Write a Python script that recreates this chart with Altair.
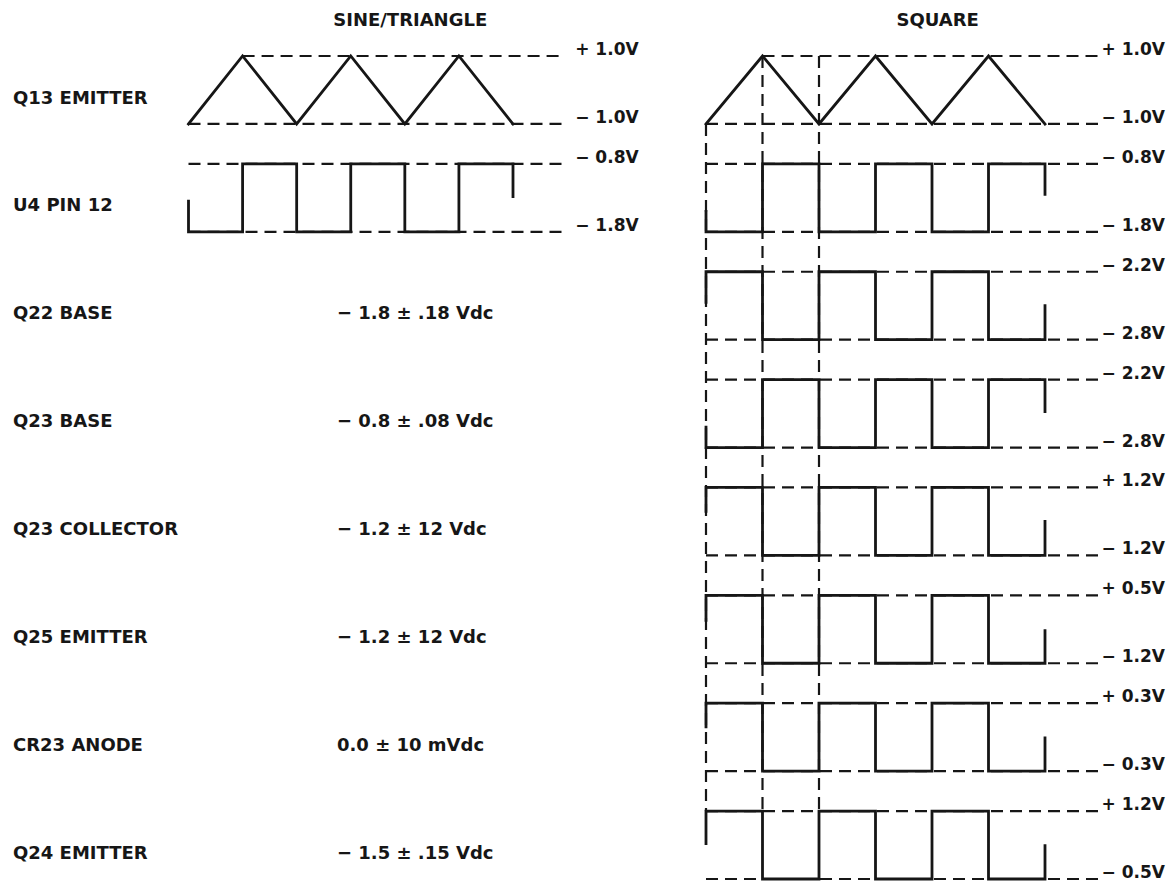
import altair as alt
import pandas as pd

# ---------------- data ----------------
HALF_PERIODS = [0, 1, 2, 3, 4, 5, 6]        # triangle vertices / switching instants
TRI_LEVELS = [0, 1, 0, 1, 0, 1, 0]          # 1 = upper level, 0 = lower level

ROW_NAMES = ["Q13 EMITTER", "U4 PIN 12", "Q22 BASE", "Q23 BASE",
             "Q23 COLLECTOR", "Q25 EMITTER", "CR23 ANODE", "Q24 EMITTER"]
DC_READINGS = ["", "", "− 1.8 ±  .18 Vdc", "− 0.8 ±  .08 Vdc", "− 1.2 ±  12 Vdc",
               "− 1.2 ±  12 Vdc", "0.0 ±  10 mVdc", "− 1.5 ±  .15 Vdc"]

TRI_TOP_LABEL = "+ 1.0V"
TRI_BOT_LABEL = "− 1.0V"

# SINE/TRIANGLE column square trace (U4 PIN 12)
SINE_SQ_ROWS = [1]
SINE_SQ_START = [0]
SINE_SQ_STUB_IN = [0.45]
SINE_SQ_STUB_OUT = [0.48]
SINE_SQ_TOP = ["− 0.8V"]
SINE_SQ_BOT = ["− 1.8V"]

# SQUARE column square traces
SQ_ROWS = [1, 2, 3, 4, 5, 6, 7]
SQ_START = [0, 1, 0, 1, 1, 1, 1]
SQ_STUB_IN = [0.30, 0.45, 0.30, 0.35, 0.37, 0.35, 0.48]
SQ_STUB_OUT = [0.45, 0.50, 0.47, 0.50, 0.48, 0.49, 0.49]
SQ_TOP = ["− 0.8V", "− 2.2V", "− 2.2V", "+ 1.2V", "+ 0.5V", "+ 0.3V", "+ 1.2V"]
SQ_BOT = ["− 1.8V", "− 2.8V", "− 2.8V", "− 1.2V", "− 1.2V", "− 0.3V", "− 0.5V"]

TITLES = ["SINE/TRIANGLE", "SQUARE"]

# ---------------- layout constants (not data) ----------------
SWING = 0.63          # height of a trace, in row units
REF_END = 6.95        # dashed reference lines end (half-period units)
TITLE_T = 4.1
LABEL_T = {"L": 7.15, "R": 7.0}
INK = "#161616"
FONT = "DejaVu Sans"

XL = alt.Scale(domain=[0, 6], range=[180.5, 505])
XR = alt.Scale(domain=[0, 6], range=[698, 1037])
YS = alt.Scale(domain=[0, 7.63], range=[48, 871])


def yy(row, level):
    return row + (1 - level) * SWING


def build(panel, sq_rows, sq_start, stub_in, stub_out, sq_top, sq_bot):
    pts, refs, labels = [], [], []
    # triangle (row 0)
    for i, (t, lv) in enumerate(zip(HALF_PERIODS, TRI_LEVELS)):
        pts.append(dict(series="tri", order=i, t=t, yy=yy(0, lv)))
    refs.append(dict(t0=HALF_PERIODS[1], t1=REF_END, yy=yy(0, 1)))
    refs.append(dict(t0=HALF_PERIODS[0], t1=REF_END, yy=yy(0, 0)))
    labels.append(dict(t=LABEL_T[panel], yy=yy(0, 1), text=TRI_TOP_LABEL))
    labels.append(dict(t=LABEL_T[panel], yy=yy(0, 0), text=TRI_BOT_LABEL))
    # square traces
    for row, st, si, so, tl, bl in zip(sq_rows, sq_start, stub_in, stub_out, sq_top, sq_bot):
        seq = []
        lv = st
        seq.append((HALF_PERIODS[0], lv + si if lv == 0 else lv - si))
        seq.append((HALF_PERIODS[0], lv))
        for t in HALF_PERIODS[1:-1]:
            seq.append((t, lv))
            lv = 1 - lv
            seq.append((t, lv))
        seq.append((HALF_PERIODS[-1], lv))
        seq.append((HALF_PERIODS[-1], lv + so if lv == 0 else lv - so))
        for i, (t, l) in enumerate(seq):
            pts.append(dict(series=f"sq{row}", order=i, t=t, yy=yy(row, l)))
        refs.append(dict(t0=HALF_PERIODS[0], t1=REF_END, yy=yy(row, 1)))
        refs.append(dict(t0=HALF_PERIODS[0], t1=REF_END, yy=yy(row, 0)))
        labels.append(dict(t=LABEL_T[panel], yy=yy(row, 1), text=tl))
        labels.append(dict(t=LABEL_T[panel], yy=yy(row, 0), text=bl))
    return pd.DataFrame(pts), pd.DataFrame(refs), pd.DataFrame(labels)


Lpts, Lrefs, Llab = build("L", SINE_SQ_ROWS, SINE_SQ_START, SINE_SQ_STUB_IN,
                          SINE_SQ_STUB_OUT, SINE_SQ_TOP, SINE_SQ_BOT)
Rpts, Rrefs, Rlab = build("R", SQ_ROWS, SQ_START, SQ_STUB_IN,
                          SQ_STUB_OUT, SQ_TOP, SQ_BOT)

# vertical dashed timing markers in the SQUARE column
vert = pd.DataFrame(dict(t=HALF_PERIODS[:3],
                         y0=[yy(0, TRI_LEVELS[i]) for i in range(3)],
                         y1=[yy(SQ_ROWS[-1], 1)] * 3))
vert.loc[2, "y0"] = yy(0, 1)

rows = pd.DataFrame(dict(name=ROW_NAMES, dc=DC_READINGS,
                         yy=[r + SWING / 2 + 0.08 for r in range(len(ROW_NAMES))]))
titles = pd.DataFrame(dict(text=TITLES, t=[TITLE_T, TITLE_T], yy=[-0.325, -0.325]))

Y = alt.Y("yy:Q", scale=YS, axis=None)
dash = dict(color=INK, strokeWidth=2.2, strokeDash=[12, 7])


def xq(field, sc):
    return alt.X(f"{field}:Q", scale=sc, axis=None)


ref_L = alt.Chart(Lrefs).mark_rule(**dash).encode(x=xq("t0", XL), x2="t1:Q", y=Y)
ref_R = alt.Chart(Rrefs).mark_rule(**dash).encode(x=xq("t0", XR), x2="t1:Q", y=Y)
vert_R = alt.Chart(vert).mark_rule(**dash).encode(
    x=xq("t", XR), y=alt.Y("y0:Q", scale=YS, axis=None), y2="y1:Q")

line_props = dict(color=INK, strokeWidth=2.8, strokeJoin="miter", strokeCap="square")
tr_L = alt.Chart(Lpts).mark_line(**line_props).encode(
    x=xq("t", XL), y=Y, detail="series:N", order="order:Q")
tr_R = alt.Chart(Rpts).mark_line(**line_props).encode(
    x=xq("t", XR), y=Y, detail="series:N", order="order:Q")

txt = dict(font=FONT, fontSize=18, fontWeight="bold", color=INK, baseline="middle")
lvl = dict(font=FONT, fontSize=17, fontWeight="bold", color=INK, baseline="middle",
           align="left", dy=-6)
lab_L = alt.Chart(Llab).mark_text(**lvl).encode(x=xq("t", XL), y=Y, text="text:N")
lab_R = alt.Chart(Rlab).mark_text(**lvl).encode(x=xq("t", XR), y=Y, text="text:N")

ttl = dict(align="center", font=FONT, fontSize=18, fontWeight="bold", color=INK,
           baseline="middle")
tit_L = alt.Chart(titles.iloc[[0]]).mark_text(**ttl).encode(
    x=xq("t", XL), y=Y, text="text:N")
tit_R = alt.Chart(titles.iloc[[1]]).mark_text(**ttl).encode(
    x=xq("t", XR), y=Y, text="text:N")

names = alt.Chart(rows).mark_text(align="left", **txt).encode(
    x=alt.value(5), y=Y, text="name:N")
dcs = alt.Chart(rows).mark_text(align="left", **txt).encode(
    x=alt.value(329), y=Y, text="dc:N")

chart = alt.layer(
    ref_L, ref_R, vert_R, tr_L, tr_R, lab_L, lab_R, tit_L, tit_R, names, dcs
).resolve_scale(x="independent").properties(
    width=1160, height=875, padding=0,
    autosize=alt.AutoSizeParams(type="none"),
    background="white",
).configure_view(stroke=None)

chart.save("out.html", embed_options={"renderer": "svg", "actions": False})
